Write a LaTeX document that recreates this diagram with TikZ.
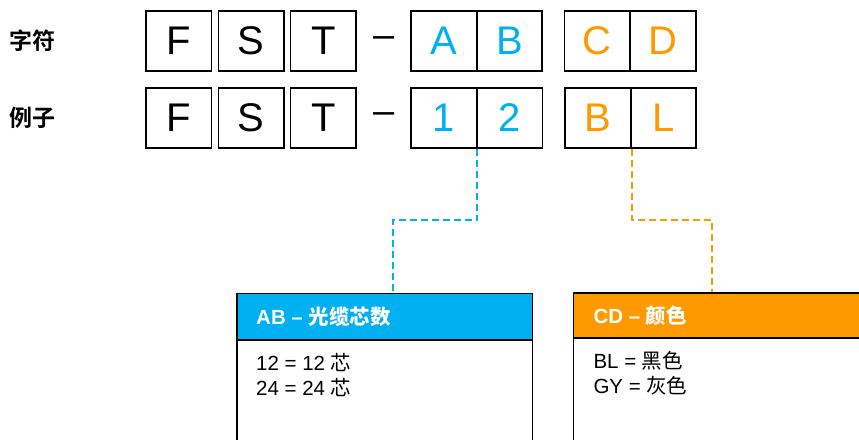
\documentclass[tikz,border=0pt]{standalone}
\usepackage{fontspec}
\setmainfont{Liberation Sans}
\newfontfamily\cjk{Noto Sans CJK SC}
\newfontfamily\cjkb{Noto Sans CJK SC Bold}
\definecolor{kblue}{HTML}{00B0F0}
\definecolor{korange}{HTML}{FF9900}
\tikzset{
  cell/.style={draw=black, line width=1.6pt, minimum width=65.5pt, minimum height=60pt, inner sep=0pt, font=\fontsize{40}{40}\selectfont},
  rowlabel/.style={anchor=west, inner sep=0pt, font=\cjkb\fontsize{23}{23}\selectfont},
  dashtxt/.style={inner sep=0pt, font=\fontsize{38}{38}\selectfont},
  head/.style={draw=black, line width=1.6pt, anchor=north west, minimum height=46.5pt, inner sep=0pt},
  body/.style={draw=black, line width=1.6pt, anchor=north west, inner sep=0pt},
  headtxt/.style={anchor=west, inner sep=0pt, text=white, font=\bfseries\fontsize{20.5}{20.5}\selectfont},
  bodytxt/.style={anchor=west, inner sep=0pt, font=\fontsize{20.5}{22}\selectfont},
  conn/.style={line width=1.8pt, dash pattern=on 7pt off 4pt},
}
\begin{document}
\begin{tikzpicture}[x=1pt,y=-1pt]
\useasboundingbox (0,0) rectangle (859,439);
\clip (0,0) rectangle (859,439);
% row labels
\node[rowlabel] (l1) at (9,41) {字符};
\node[rowlabel] (l2) at (9,117.5) {例子};
% row 1
\node[cell] (r1f) at (178.7,41) {F};
\node[cell] (r1s) at (251.2,41) {S};
\node[cell] (r1t) at (323.3,41) {T};
\node[dashtxt] (r1dash) at (384.5,42) {–};
\node[cell,text=kblue] (r1a) at (443.7,41) {A};
\node[cell,text=kblue] (r1b) at (509.5,41) {B};
\node[cell,text=korange] (r1c) at (597.2,41) {C};
\node[cell,text=korange] (r1d) at (663,41) {D};
% row 2
\node[cell] (r2f) at (178.7,117.7) {F};
\node[cell] (r2s) at (251.2,117.7) {S};
\node[cell] (r2t) at (323.3,117.7) {T};
\node[dashtxt] (r2dash) at (384.5,118.5) {–};
\node[cell,text=kblue] (r2a) at (444,117.7) {1};
\node[cell,text=kblue] (r2b) at (509.7,117.7) {2};
\node[cell,text=korange] (r2c) at (598,117.7) {B};
\node[cell,text=korange] (r2d) at (663.5,117.7) {L};
% boxes
\node[body, minimum width=295.5pt, minimum height=160pt] (abbody) at (236,292.7) {};
\node[head, fill=kblue, minimum width=295.5pt] (abhead) at (236,292.7) {};
\node[headtxt] (abtitle) at (256,316.5) {AB – {\cjkb 光缆芯数}};
\node[bodytxt] (ab1) at (256,362.5) {12 = 12 {\cjk 芯}};
\node[bodytxt] (ab2) at (256,387.3) {24 = 24 {\cjk 芯}};
\node[body, minimum width=320pt, minimum height=160pt] (cdbody) at (572.7,292.3) {};
\node[head, fill=korange, minimum width=320pt, minimum height=45pt] (cdhead) at (572.7,292.3) {};
\node[headtxt] (cdtitle) at (593.3,316) {CD – {\cjkb 颜色}};
\node[bodytxt] (cd1) at (593.3,360.7) {BL = {\cjk 黑色}};
\node[bodytxt] (cd2) at (593.3,385.7) {GY = {\cjk 灰色}};
% connectors
\coordinate (bs) at ([xshift=-0.3pt]r2a.south east);
\coordinate (os) at ([xshift=0.8pt]r2c.south east);
\coordinate (bj) at (393,220);
\coordinate (oj) at (711.7,220);
\draw[conn, draw=kblue] (bs) -- (bs |- bj) -- (bj) -- (bj |- abhead.north);
\draw[conn, draw=korange] (os) -- (os |- oj) -- (oj) -- (oj |- cdhead.north);
\end{tikzpicture}
\end{document}
